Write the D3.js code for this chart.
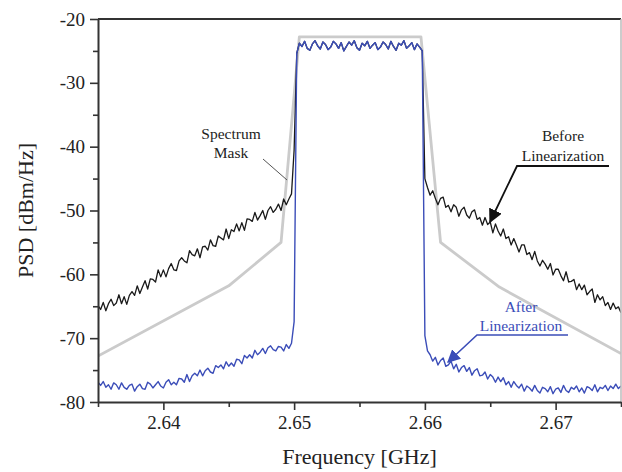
<!DOCTYPE html>
<html>
<head>
<meta charset="utf-8">
<script src="https://cdn.jsdelivr.net/npm/d3@7"></script>
<style>
  html, body { margin: 0; padding: 0; background: #fff; }
  svg { display: block; font-family: "Liberation Serif", "Times New Roman", serif; }
</style>
</head>
<body>
<svg id="chart" width="622" height="472"></svg>
<script>
// Frequency grid of the measured PSD traces (GHz): start and spacing
const FREQ_START = 2.635;
const FREQ_STEP = 0.0002;

// Axis ticks
const xTicks = [2.64, 2.65, 2.66, 2.67];
const xMinorTicks = [2.635, 2.645, 2.655, 2.665, 2.675];
const yTicks = [-80, -70, -60, -50, -40, -30, -20];
const yMinorTicks = [-75, -65, -55, -45, -35, -25];

// Spectrum emission mask corner points
const maskFreq = [2.635, 2.645, 2.649, 2.6504, 2.6597, 2.6612, 2.6657, 2.675];
const maskPsd  = [-72.8, -61.8, -55.0, -22.8, -22.8, -55.0, -62.0, -72.4];

// PSD before linearization, dBm/Hz: lower skirt (2.6350-2.6500 GHz)
const beforeLower = [
  -64.9, -65.5, -64.4, -65.7, -64.6, -63.9, -64.9, -64.5, -63.2, -64.6,
  -63.5, -64.7, -63.3, -62.7, -63.3, -61.8, -63.0, -62.0, -61.0, -62.3,
  -60.7, -60.8, -61.2, -59.3, -60.4, -59.3, -60.4, -59.1, -58.3, -59.3,
  -59.4, -57.9, -57.4, -57.9, -58.2, -56.3, -56.9, -57.1, -56.0, -57.4,
  -55.7, -55.6, -56.2, -54.6, -55.5, -55.6, -54.0, -54.3, -54.6, -52.9,
  -54.4, -53.0, -53.3, -52.1, -53.2, -51.9, -53.1, -51.3, -51.4, -51.7,
  -50.3, -51.5, -50.8, -50.0, -51.4, -50.0, -49.4, -50.3, -49.8, -49.0,
  -50.0, -48.2, -49.1, -48.2, -47.4, -40.5
];
// in-band (2.6502-2.6598 GHz), shared by both measurements
const inBand = [
  -25.4, -23.8, -24.3, -23.5, -24.6, -24.9, -23.9, -23.4, -24.2, -24.7,
  -23.6, -24.0, -24.8, -24.4, -23.5, -23.9, -24.6, -23.7, -25.0, -24.3,
  -23.6, -24.1, -23.4, -24.5, -24.9, -23.8, -24.2, -23.5, -24.6, -24.1,
  -23.7, -24.8, -24.4, -23.6, -24.0, -24.7, -23.5, -24.3, -24.9, -23.8,
  -24.1, -23.4, -24.6, -24.2, -23.7, -24.8, -23.9, -24.4, -25.0
];
// upper skirt (2.6600-2.6750 GHz)
const beforeUpper = [
  -45.0, -46.4, -47.6, -46.9, -48.1, -49.1, -48.1, -47.9, -49.5, -49.2,
  -50.2, -49.1, -49.5, -50.9, -49.9, -49.5, -50.7, -51.2, -50.2, -49.9,
  -51.4, -51.1, -52.3, -51.1, -52.2, -51.8, -53.5, -52.1, -53.2, -54.0,
  -52.9, -54.4, -54.1, -55.4, -54.4, -55.4, -56.5, -55.4, -55.4, -56.9,
  -56.6, -57.7, -56.4, -57.9, -58.7, -57.8, -58.4, -59.2, -58.3, -60.1,
  -59.2, -59.2, -60.2, -61.0, -59.6, -61.2, -61.1, -60.8, -62.4, -61.5,
  -62.4, -61.7, -63.2, -62.7, -62.3, -64.4, -63.2, -64.0, -63.5, -64.9,
  -64.4, -65.5, -64.5, -65.4, -65.1, -66.0
];

// PSD after linearization, dBm/Hz: lower skirt (2.6350-2.6500 GHz)
const afterLower = [
  -76.9, -77.4, -76.8, -77.7, -77.3, -78.0, -77.0, -77.3, -78.0, -77.0,
  -77.7, -78.0, -77.4, -77.2, -78.3, -77.6, -77.2, -77.9, -78.0, -76.9,
  -77.2, -77.8, -77.3, -76.8, -77.5, -77.8, -76.9, -76.5, -77.3, -76.9,
  -77.3, -76.3, -76.4, -76.9, -75.7, -76.8, -75.9, -75.5, -75.9, -75.0,
  -75.9, -75.1, -74.7, -75.3, -75.5, -74.3, -74.6, -74.2, -74.8, -73.7,
  -74.4, -73.9, -74.4, -73.3, -73.4, -74.0, -72.7, -73.1, -72.6, -73.1,
  -71.9, -72.6, -72.2, -71.6, -72.4, -71.5, -71.2, -71.8, -72.0, -71.3,
  -71.4, -72.0, -71.0, -71.6, -70.8, -67.4
];
// upper skirt (2.6600-2.6750 GHz)
const afterUpper = [
  -69.6, -72.0, -72.6, -73.6, -73.0, -74.2, -73.5, -73.1, -74.4, -74.2,
  -73.6, -74.8, -74.1, -75.3, -74.6, -74.3, -75.2, -74.6, -75.8, -75.1,
  -74.8, -75.9, -75.8, -75.3, -76.4, -75.7, -76.1, -76.9, -76.1, -76.8,
  -76.2, -77.3, -76.8, -77.7, -76.8, -77.4, -77.8, -77.2, -78.3, -77.5,
  -77.8, -78.3, -77.4, -78.2, -78.6, -77.7, -77.9, -78.4, -77.6, -78.7,
  -78.0, -77.8, -78.5, -77.4, -78.2, -78.5, -77.7, -78.0, -77.5, -78.4,
  -77.8, -78.6, -77.6, -77.8, -78.2, -77.3, -78.4, -77.7, -77.9, -77.4,
  -78.2, -77.5, -77.9, -77.2, -77.9, -77.5
];

const beforeSeries = beforeLower.concat(inBand, beforeUpper);
const afterSeries = afterLower.concat(inBand, afterUpper);

const svg = d3.select("#chart");
const plot = { left: 98, right: 621, top: 19, bottom: 402 };

const x = d3.scaleLinear().domain([2.635, 2.675]).range([plot.left, plot.right]);
const y = d3.scaleLinear().domain([-80, -20]).range([plot.bottom, plot.top]);

const freqAt = i => FREQ_START + i * FREQ_STEP;

// clip traces to the plot frame
svg.append("clipPath").attr("id", "plotClip")
  .append("rect")
  .attr("x", plot.left).attr("y", plot.top)
  .attr("width", plot.right - plot.left).attr("height", plot.bottom - plot.top);

const g = svg.append("g").attr("clip-path", "url(#plotClip)");

// spectrum mask
const maskLine = d3.line().x(d => x(d[0])).y(d => y(d[1]));
g.append("path")
  .datum(maskFreq.map((f, i) => [f, maskPsd[i]]))
  .attr("d", maskLine)
  .attr("fill", "none")
  .attr("stroke", "#cbcbcb")
  .attr("stroke-width", 2.8)
  .attr("stroke-linejoin", "round");

const traceLine = d3.line().x((d, i) => x(freqAt(i))).y(d => y(d));

g.append("path")
  .datum(beforeSeries)
  .attr("d", traceLine)
  .attr("fill", "none")
  .attr("stroke", "#1a1a1a")
  .attr("stroke-width", 1.3)
  .attr("stroke-linejoin", "round");

g.append("path")
  .datum(afterSeries)
  .attr("d", traceLine)
  .attr("fill", "none")
  .attr("stroke", "#3b4db8")
  .attr("stroke-width", 1.4)
  .attr("stroke-linejoin", "round");

// frame: top and right edges
svg.append("line")
  .attr("x1", plot.left).attr("x2", plot.right)
  .attr("y1", plot.top).attr("y2", plot.top)
  .attr("stroke", "#333").attr("stroke-width", 2);
svg.append("line")
  .attr("x1", plot.right).attr("x2", plot.right)
  .attr("y1", plot.top).attr("y2", plot.bottom)
  .attr("stroke", "#bbb").attr("stroke-width", 1.5);

// axes
const axisColor = "#333";
svg.append("g")
  .attr("transform", `translate(0,${plot.bottom})`)
  .call(d3.axisBottom(x).tickValues(xTicks).tickFormat(d3.format(".2f")).tickSize(8).tickPadding(6).tickSizeOuter(0));
svg.append("g")
  .attr("transform", `translate(0,${plot.bottom})`)
  .call(d3.axisBottom(x).tickValues(xMinorTicks).tickFormat("").tickSize(5).tickSizeOuter(0))
  .select(".domain").remove();

const yAxis = svg.append("g")
  .attr("transform", `translate(${plot.left},0)`)
  .call(d3.axisLeft(y).tickValues(yTicks).tickFormat(d3.format("d")).tickSize(8).tickPadding(5).tickSizeOuter(0));
svg.append("g")
  .attr("transform", `translate(${plot.left},0)`)
  .call(d3.axisLeft(y).tickValues(yMinorTicks).tickFormat("").tickSize(5).tickSizeOuter(0))
  .select(".domain").remove();

svg.selectAll(".domain").attr("stroke", axisColor).attr("stroke-width", 2);
svg.selectAll(".tick line").attr("stroke", axisColor).attr("stroke-width", 1.6);
svg.selectAll(".tick text")
  .attr("font-family", "Liberation Serif, serif")
  .attr("font-size", 19)
  .attr("fill", "#222");
yAxis.selectAll(".tick text").text(d => d3.format("d")(d).replace("−", "-"));

// axis titles
svg.append("text")
  .attr("x", (plot.left + plot.right) / 2).attr("y", 464)
  .attr("text-anchor", "middle")
  .attr("font-size", 22).attr("fill", "#222")
  .text("Frequency [GHz]");
svg.append("text")
  .attr("transform", `translate(33,${(plot.top + plot.bottom) / 2}) rotate(-90)`)
  .attr("text-anchor", "middle")
  .attr("font-size", 22).attr("fill", "#222")
  .text("PSD [dBm/Hz]");

// annotations
const ann = svg.append("g").attr("font-size", 15.5);

// Spectrum Mask
ann.append("text").attr("x", 231).attr("y", 139).attr("text-anchor", "middle").attr("fill", "#222").text("Spectrum");
ann.append("text").attr("x", 231).attr("y", 158).attr("text-anchor", "middle").attr("fill", "#222").text("Mask");
ann.append("line").attr("x1", 263).attr("y1", 159).attr("x2", 287).attr("y2", 180)
  .attr("stroke", "#555").attr("stroke-width", 1);

// arrowhead markers
const defs = svg.append("defs");
[["arrowBlack", "#111", 14], ["arrowBlue", "#3b4db8", 13]].forEach(([id, c, s]) => {
  defs.append("marker").attr("id", id)
    .attr("viewBox", "0 0 10 10").attr("refX", 9).attr("refY", 5)
    .attr("markerWidth", s).attr("markerHeight", s).attr("markerUnits", "userSpaceOnUse")
    .attr("orient", "auto")
    .append("path").attr("d", "M0,0 L10,5 L0,10 Z").attr("fill", c);
});

// Before Linearization
ann.append("text").attr("x", 563).attr("y", 141).attr("text-anchor", "middle").attr("fill", "#222").text("Before");
ann.append("text").attr("x", 563).attr("y", 161).attr("text-anchor", "middle").attr("fill", "#222").text("Linearization");
ann.append("polyline").attr("points", "609,166 517,166 490,222")
  .attr("fill", "none").attr("stroke", "#111").attr("stroke-width", 1.8)
  .attr("marker-end", "url(#arrowBlack)");

// After Linearization
ann.append("text").attr("x", 521).attr("y", 312).attr("text-anchor", "middle").attr("fill", "#3b4db8").text("After");
ann.append("text").attr("x", 521).attr("y", 331).attr("text-anchor", "middle").attr("fill", "#3b4db8").text("Linearization");
ann.append("polyline").attr("points", "568,335 477,335 448,362")
  .attr("fill", "none").attr("stroke", "#3b4db8").attr("stroke-width", 1.6)
  .attr("marker-end", "url(#arrowBlue)");
</script>
</body>
</html>
